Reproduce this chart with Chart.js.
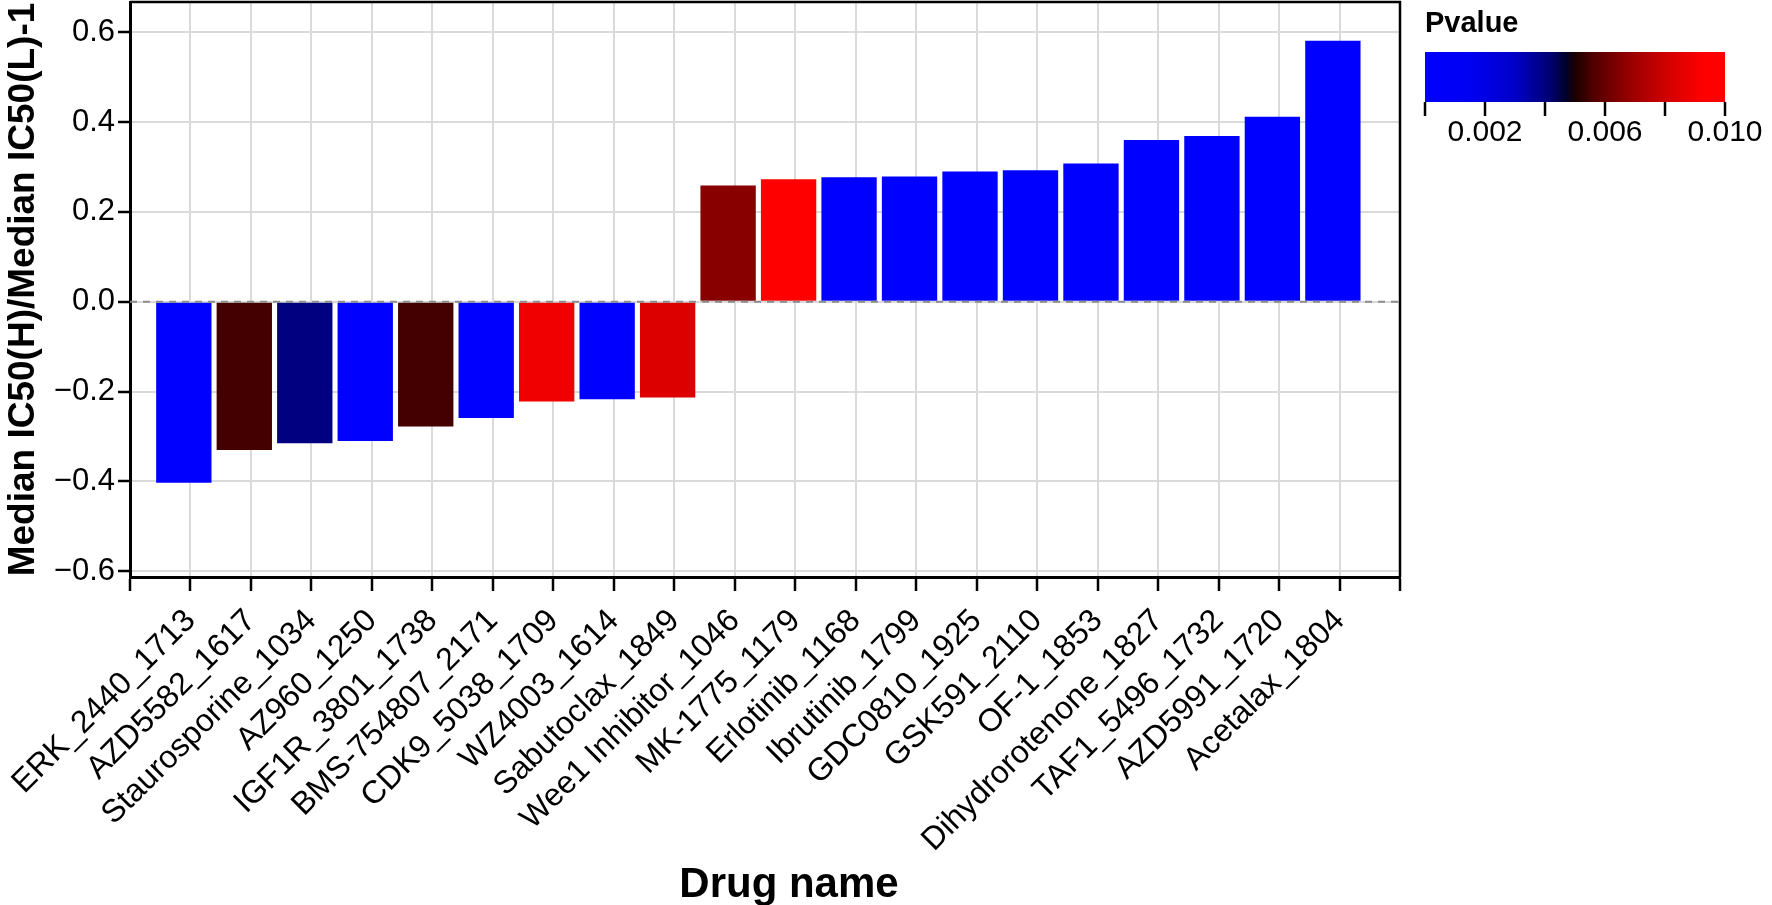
<!DOCTYPE html>
<html>
<head>
<meta charset="utf-8">
<style>
    html, body { margin: 0; padding: 0; background: #ffffff; }
    canvas { display: block; }
</style>
<script src="https://cdn.jsdelivr.net/npm/chart.js@4.4.1/dist/chart.umd.min.js"></script>
</head>
<body>
<canvas id="graphique-ic50" width="1772" height="905"></canvas>
<script>
// Données
const drugNames = [
    "ERK_2440_1713", "AZD5582_1617", "Staurosporine_1034", "AZ960_1250",
    "IGF1R_3801_1738", "BMS-754807_2171", "CDK9_5038_1709", "WZ4003_1614",
    "Sabutoclax_1849", "Wee1 Inhibitor_1046", "MK-1775_1179", "Erlotinib_1168",
    "Ibrutinib_1799", "GDC0810_1925", "GSK591_2110", "OF-1_1853",
    "Dihydrorotenone_1827", "TAF1_5496_1732", "AZD5991_1720", "Acetalax_1804"
]
const ratioValues = [
    -0.403, -0.330, -0.315, -0.310, -0.278, -0.259, -0.222, -0.217, -0.213,
    0.259, 0.273, 0.277, 0.279, 0.290, 0.293, 0.308, 0.360, 0.369, 0.412, 0.581
]
const barColors = [
    "#0000ff", "#440000", "#000080", "#0000ff", "#440000", "#0000ff", "#f00000",
    "#0000ff", "#dd0000", "#880000", "#ff0000", "#0000ff", "#0000ff", "#0000ff",
    "#0000ff", "#0000ff", "#0000ff", "#0000ff", "#0000ff", "#0000ff"
]
const yTickValues = [-0.6, -0.4, -0.2, 0, 0.2, 0.4, 0.6]
const yTickLabels = ["\u22120.6", "\u22120.4", "\u22120.2", "0.0", "0.2", "0.4", "0.6"]
const pvalueTicks = [0, 0.002, 0.004, 0.006, 0.008, 0.010]
const pvalueLabels = ["", "0.002", "", "0.006", "", "0.010"]
const pvalueMax = 0.010

// les graduations de l'axe x sont un peu à droite du centre des barres
const tickShift = 0.11

const fontFamily = "'Liberation Sans', Arial, sans-serif"
Chart.defaults.font.family = fontFamily
Chart.defaults.color = "#000000"

const points = ratioValues.map((v, i) => ({x: i, y: v}))

// Cadre, ligne pointillée à zéro et titre de l'axe x
const cadrePlugin = {
    id: "cadre",
    afterDatasetsDraw(chart) {
        const {ctx, chartArea, scales} = chart
        const y0 = scales.y.getPixelForValue(0)
        ctx.save()
        ctx.strokeStyle = "#8c8c8c"
        ctx.lineWidth = 2
        ctx.setLineDash([7, 6])
        ctx.beginPath()
        ctx.moveTo(chartArea.left, y0)
        ctx.lineTo(chartArea.right, y0)
        ctx.stroke()
        ctx.restore()
    },
    afterDraw(chart) {
        const {ctx, chartArea} = chart
        ctx.save()
        ctx.strokeStyle = "#000000"
        ctx.lineWidth = 2.5
        ctx.beginPath()
        ctx.moveTo(chartArea.left, chartArea.top)
        ctx.lineTo(chartArea.right, chartArea.top)
        ctx.lineTo(chartArea.right, chartArea.bottom)
        ctx.stroke()

        ctx.fillStyle = "#000000"
        ctx.font = "bold 42px " + fontFamily
        ctx.textAlign = "center"
        ctx.textBaseline = "alphabetic"
        ctx.fillText("Drug name", 789, 897)
        ctx.restore()
    }
}

// Légende en barre de couleurs (Pvalue)
const barreCouleurPlugin = {
    id: "barreCouleur",
    afterDraw(chart) {
        const ctx = chart.ctx
        const left = 1425, right = 1725, top = 52, bottom = 102
        ctx.save()
        ctx.fillStyle = "#000000"
        ctx.font = "bold 29px " + fontFamily
        ctx.textAlign = "left"
        ctx.textBaseline = "alphabetic"
        ctx.fillText("Pvalue", left, 32)

        const grad = ctx.createLinearGradient(left, 0, right, 0)
        grad.addColorStop(0, "#0000ff")
        grad.addColorStop(0.15, "#0000f2")
        grad.addColorStop(0.3, "#0000c8")
        grad.addColorStop(0.42, "#000070")
        grad.addColorStop(0.47, "#00002a")
        grad.addColorStop(0.5, "#1a0000")
        grad.addColorStop(0.56, "#500000")
        grad.addColorStop(0.68, "#960000")
        grad.addColorStop(0.82, "#d80000")
        grad.addColorStop(0.93, "#ff0000")
        grad.addColorStop(1, "#ff0000")
        ctx.fillStyle = grad
        ctx.fillRect(left, top, right - left, bottom - top)

        ctx.strokeStyle = "#000000"
        ctx.lineWidth = 2.5
        ctx.fillStyle = "#000000"
        ctx.font = "30px " + fontFamily
        ctx.textAlign = "center"
        ctx.textBaseline = "top"
        pvalueTicks.forEach((v, i) => {
            const x = left + (v / pvalueMax) * (right - left)
            ctx.beginPath()
            ctx.moveTo(x, bottom)
            ctx.lineTo(x, bottom + 14)
            ctx.stroke()
            if (pvalueLabels[i]) {
                ctx.fillText(pvalueLabels[i], x, bottom + 16)
            }
        })
        ctx.restore()
    }
}

const data = {
    datasets: [{
        data: points,
        backgroundColor: barColors,
        borderWidth: 0,
        barPercentage: 0.915,
        categoryPercentage: 1,
    }],
}

const grille = {
    offset: false,
    color: "#dadada",
    lineWidth: 2,
    tickColor: "#000000",
    tickLength: 12,
    tickWidth: 2.5,
}

const config = {
    type: "bar",
    data: data,
    options: {
        responsive: false,
        animation: false,
        devicePixelRatio: 1,
        layout: {padding: {top: 2, right: 372, left: 0, bottom: 0}},
        plugins: {
            legend: {display: false},
            tooltip: {enabled: false},
        },
        scales: {
            x: {
                type: "linear",
                offset: false,
                min: -1 + tickShift,
                max: drugNames.length + tickShift,
                afterBuildTicks: scale => {
                    scale.ticks = Array.from({length: drugNames.length + 2}, (_, k) => ({value: k - 1 + tickShift}))
                },
                afterFit: scale => {
                    scale.height = 328
                    scale.paddingLeft = 0
                    scale.paddingRight = 0
                },
                grid: {...grille, tickLength: 14},
                border: {display: true, color: "#000000", width: 3},
                ticks: {
                    autoSkip: false,
                    maxRotation: 45,
                    minRotation: 45,
                    padding: 11,
                    font: {size: 32},
                    callback: (value, index) => drugNames[index - 1] || "",
                },
                title: {display: false},
            },
            y: {
                min: -0.613,
                max: 0.6675,
                afterBuildTicks: scale => {
                    scale.ticks = yTickValues.map(v => ({value: v}))
                },
                afterFit: scale => {
                    scale.width = 130
                    scale.paddingTop = 0
                    scale.paddingBottom = 0
                },
                grid: grille,
                border: {display: true, color: "#000000", width: 3},
                ticks: {
                    padding: 3,
                    font: {size: 31},
                    callback: (value, index) => yTickLabels[index],
                },
                title: {
                    display: true,
                    text: "Median IC50(H)/Median IC50(L)-1",
                    font: {size: 37, weight: "bold", lineHeight: 1},
                    padding: {top: 5, bottom: 0},
                },
            },
        },
    },
    plugins: [cadrePlugin, barreCouleurPlugin],
}

// eslint-disable-next-line no-unused-vars
const graphiqueIC50 = new Chart(
    document.querySelector("#graphique-ic50"),
    config,
)
</script>
</body>
</html>
